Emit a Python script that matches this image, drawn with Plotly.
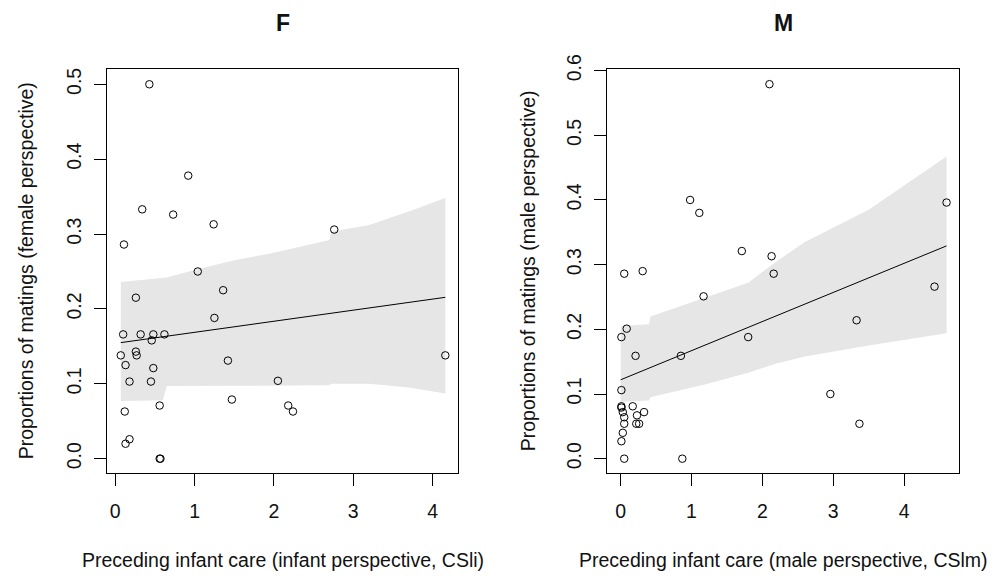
import plotly.graph_objects as go

# ---------------- data ----------------
# Panel F: female perspective
x_f = [0.43, 0.92, 0.34, 0.73, 1.24, 2.76, 0.11, 1.04, 1.36, 0.26, 1.25, 0.10,
       0.32, 0.48, 0.62, 0.46, 0.07, 0.26, 0.27, 1.42, 0.13, 0.48, 0.18, 0.45,
       2.05, 1.47, 0.56, 2.18, 2.24, 0.12, 0.18, 0.13, 0.56, 0.57, 4.16]
y_f = [0.500, 0.378, 0.333, 0.326, 0.313, 0.306, 0.286, 0.250, 0.225, 0.215,
       0.188, 0.166, 0.166, 0.166, 0.166, 0.158, 0.138, 0.143, 0.138, 0.131,
       0.125, 0.121, 0.103, 0.103, 0.104, 0.079, 0.071, 0.071, 0.063, 0.063,
       0.026, 0.020, 0.0, 0.0, 0.138]
reg_x_f = [0.07, 4.16]
reg_y_f = [0.155, 0.2155]
band_x_f = [0.07, 0.60, 0.65, 1.0, 1.5, 2.0, 2.70, 2.72, 3.2, 3.7, 4.16]
band_hi_f = [0.236, 0.241, 0.242, 0.252, 0.265, 0.275, 0.292, 0.303, 0.312, 0.330, 0.348]
band_lo_f = [0.077, 0.078, 0.097, 0.097, 0.098, 0.098, 0.098, 0.100, 0.100, 0.095, 0.087]

# Panel M: male perspective
x_m = [2.10, 0.98, 1.11, 1.71, 2.13, 2.16, 0.05, 0.31, 1.17, 0.085, 0.01, 1.80,
       0.21, 0.85, 0.01, 0.01, 0.01, 0.17, 0.03, 0.23, 0.33, 0.05, 0.05, 0.22,
       0.26, 0.03, 0.01, 0.05, 0.87, 4.60, 4.43, 3.33, 2.96, 3.37]
y_m = [0.579, 0.400, 0.380, 0.321, 0.313, 0.286, 0.286, 0.290, 0.251, 0.201,
       0.188, 0.188, 0.159, 0.159, 0.106, 0.081, 0.079, 0.081, 0.072, 0.067,
       0.072, 0.064, 0.054, 0.054, 0.054, 0.040, 0.027, 0.0, 0.0, 0.396,
       0.266, 0.214, 0.100, 0.054]
reg_x_m = [0.0, 4.60]
reg_y_m = [0.122, 0.329]
band_x_m = [0.0, 0.40, 0.42, 1.2, 1.8, 2.2, 2.6, 3.5, 4.60]
band_hi_m = [0.205, 0.208, 0.220, 0.250, 0.272, 0.305, 0.335, 0.385, 0.467]
band_lo_m = [0.088, 0.090, 0.095, 0.115, 0.133, 0.147, 0.158, 0.175, 0.194]

titles = ["F", "M"]
x_titles = ["Preceding infant care (infant perspective, CSli)",
            "Preceding infant care (male perspective, CSlm)"]
y_titles = ["Proportions of matings (female perspective)",
            "Proportions of matings (male perspective)"]
x_ticks = [[0, 1, 2, 3, 4], [0, 1, 2, 3, 4]]
y_ticks_f = [0.0, 0.1, 0.2, 0.3, 0.4, 0.5]
y_ticks_m = [0.0, 0.1, 0.2, 0.3, 0.4, 0.5, 0.6]

# ---------------- layout constants ----------------
# The page body has an 8px margin, so the figure is drawn 8px in and 8px down;
# positions below are given in window pixels and converted to figure fractions.
OFF = 8
W, H = 995 - OFF, 576 - OFF
FONT = "Liberation Sans, Arial, sans-serif"
TXT = "#111111"
BAND = "#e6e6e6"

def px_x(p):
    return (p - OFF) / W

def px_y(p):
    return (H - (p - OFF)) / H

dom_x = [[px_x(107.3), px_x(457.7)], [px_x(607.3), px_x(959.3)]]
dom_y = [px_y(473.3), px_y(69.3)]
x_ranges = [[-0.10, 4.316], [-0.189, 4.78]]
y_ranges = [[-0.0195, 0.52], [-0.0226, 0.602]]

fig = go.Figure()

panels = [
    (x_f, y_f, reg_x_f, reg_y_f, band_x_f, band_hi_f, band_lo_f, "x", "y"),
    (x_m, y_m, reg_x_m, reg_y_m, band_x_m, band_hi_m, band_lo_m, "x2", "y2"),
]
for (xs, ys, rx, ry, bx, bhi, blo, xa, ya) in panels:
    fig.add_trace(go.Scatter(x=bx, y=blo, mode="lines", line=dict(width=0, color=BAND),
                             xaxis=xa, yaxis=ya, showlegend=False, hoverinfo="skip"))
    fig.add_trace(go.Scatter(x=bx, y=bhi, mode="lines", line=dict(width=0, color=BAND),
                             fill="tonexty", fillcolor=BAND,
                             xaxis=xa, yaxis=ya, showlegend=False, hoverinfo="skip"))
    fig.add_trace(go.Scatter(x=rx, y=ry, mode="lines", line=dict(width=1, color="black"),
                             xaxis=xa, yaxis=ya, showlegend=False))
    fig.add_trace(go.Scatter(x=xs, y=ys, mode="markers",
                             marker=dict(symbol="circle-open", size=7.5, color="black",
                                         line=dict(width=1, color="black")),
                             xaxis=xa, yaxis=ya, showlegend=False))

axis_common = dict(showgrid=False, zeroline=False, showline=True, linecolor="black",
                   linewidth=1, mirror=True, ticks="outside", ticklen=12, tickwidth=1,
                   tickcolor="black", automargin=False,
                   tickfont=dict(family=FONT, size=19.5, color=TXT))

yt = [y_ticks_f, y_ticks_m]
for i in range(2):
    sfx = "" if i == 0 else str(i + 1)
    fig.layout["xaxis" + sfx] = dict(axis_common, domain=dom_x[i], range=x_ranges[i],
                                     anchor="y" + sfx, tickvals=x_ticks[i],
                                     ticktext=[str(v) for v in x_ticks[i]],
                                     ticklabelstandoff=8)
    fig.layout["yaxis" + sfx] = dict(axis_common, domain=dom_y, range=y_ranges[i],
                                     anchor="x" + sfx, tickvals=yt[i],
                                     ticktext=["%.1f" % v for v in yt[i]],
                                     tickangle=-90, ticklabelstandoff=6)

annotations = []
centers_x = [(107.3 + 457.7) / 2, (607.3 + 959.3) / 2]
ytitle_x = [26, 528]
for i in range(2):
    annotations.append(dict(text="<b>%s</b>" % titles[i], x=px_x(centers_x[i]), y=px_y(23),
                            xref="paper", yref="paper", showarrow=False,
                            xanchor="center", yanchor="middle",
                            font=dict(family=FONT, size=23, color=TXT)))
    annotations.append(dict(text=x_titles[i], x=px_x(centers_x[i]), y=px_y(560),
                            xref="paper", yref="paper", showarrow=False,
                            xanchor="center", yanchor="middle",
                            font=dict(family=FONT, size=19.5, color=TXT)))
    annotations.append(dict(text=y_titles[i], x=px_x(ytitle_x[i]), y=(dom_y[0] + dom_y[1]) / 2,
                            xref="paper", yref="paper", showarrow=False, textangle=-90,
                            xanchor="center", yanchor="middle",
                            font=dict(family=FONT, size=19.5, color=TXT)))

fig.update_layout(width=W, height=H, margin=dict(l=0, r=0, t=0, b=0, autoexpand=False),
                  paper_bgcolor="white", plot_bgcolor="white",
                  annotations=annotations, showlegend=False)

fig.write_html("out.html")
